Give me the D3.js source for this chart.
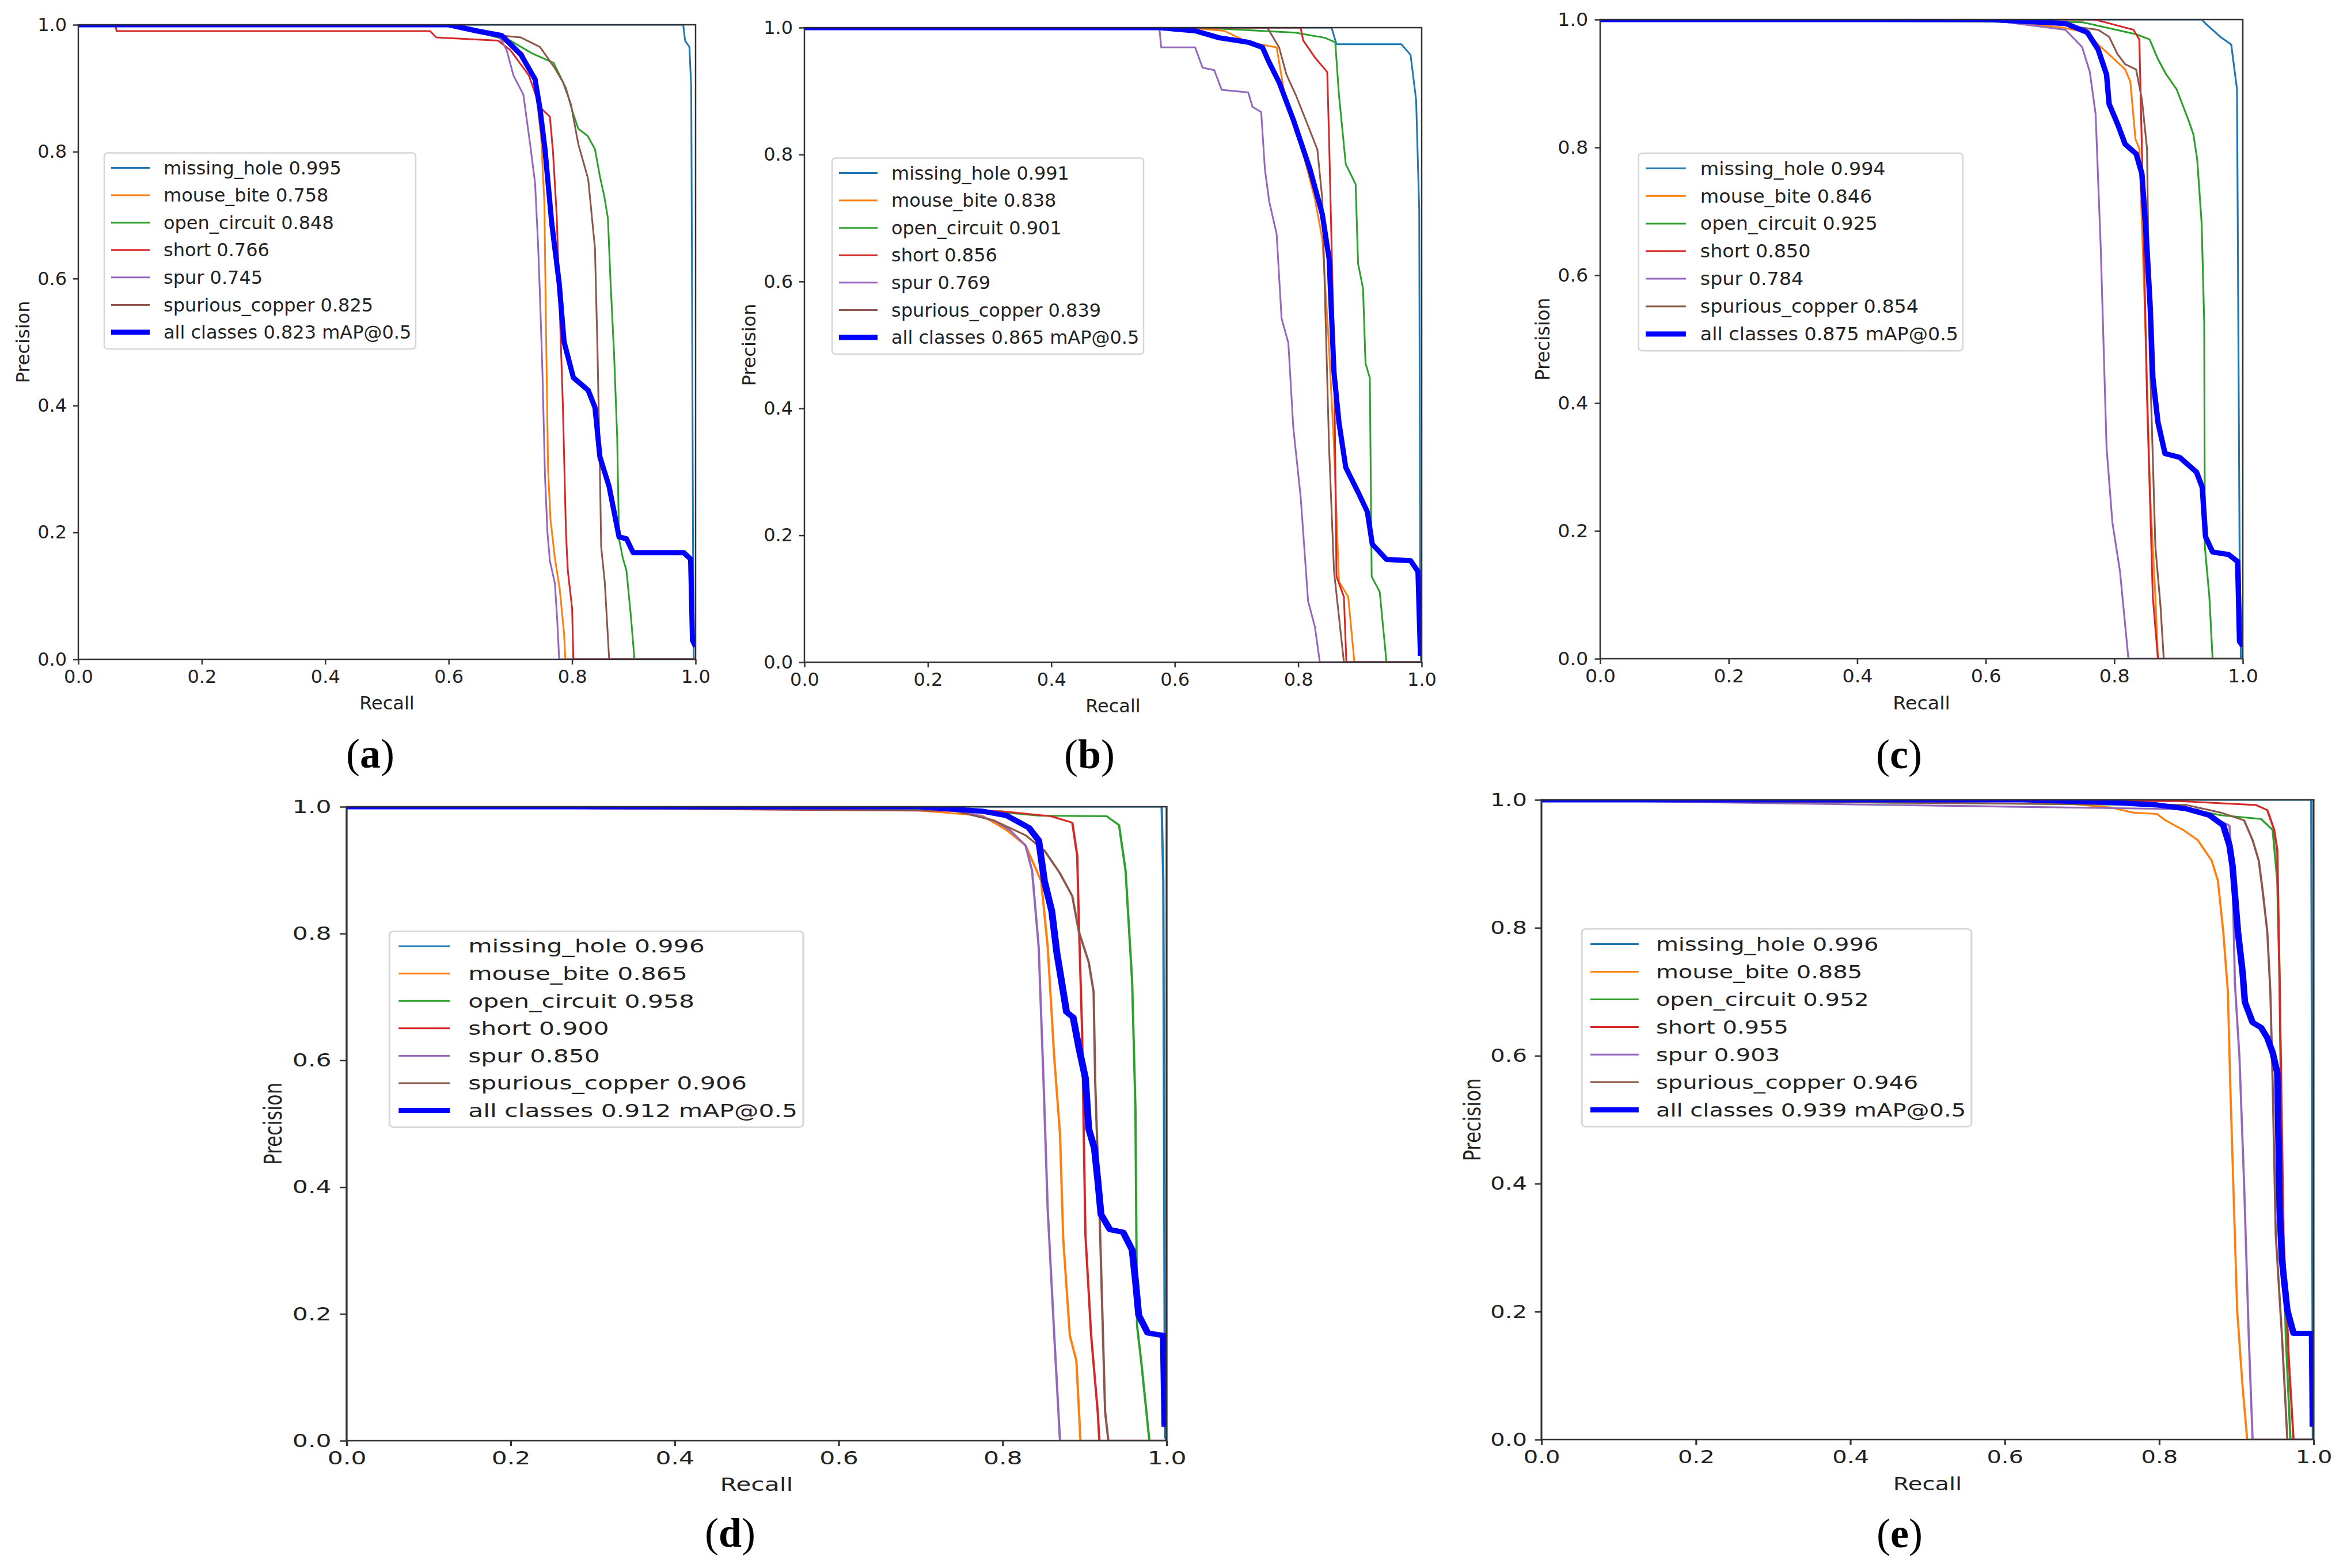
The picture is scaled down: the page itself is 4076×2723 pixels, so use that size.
<!DOCTYPE html>
<html>
<head>
<meta charset="utf-8">
<title>PR curves</title>
<style>
    html, body {
        margin: 0px;
        padding: 0px;
        background-color: #fff;
    }
    svg text {
        font-family: "DejaVu Sans", sans-serif;
        fill: #222;
    }
    .axis text {
        font-size: 32px;
    }
    .axis line {
        stroke: #333;
        stroke-width: 2.5;
    }
    .axis .domain {
        display: none;
    }
    .axis-title {
        font-size: 32px;
    }
    .legend text {
        font-size: 32px;
    }
    .panel-label {
        font-family: "Liberation Serif", serif;
        font-size: 72px;
        fill: #000 !important;
    }
</style>
<script src="https://cdn.jsdelivr.net/npm/d3@7/dist/d3.min.js"></script>
</head>
<body>
<div id="main"></div>
<script>
// ---- shared labels ----
var classNames = ["missing_hole", "mouse_bite", "open_circuit", "short", "spur", "spurious_copper"];
var classColors = ["#1f77b4", "#ff7f0e", "#2ca02c", "#d62728", "#9467bd", "#8c564b"];
var allColor = "#0000ff";
var tickValues = [0, 0.2, 0.4, 0.6, 0.8, 1.0];
var tickLabels = ["0.0", "0.2", "0.4", "0.6", "0.8", "1.0"];
var panelLetters = ["a", "b", "c", "d", "e"];

// ---- AP per class and mAP@0.5 per panel ----
var aAP = [0.995, 0.758, 0.848, 0.766, 0.745, 0.825];
var bAP = [0.991, 0.838, 0.901, 0.856, 0.769, 0.839];
var cAP = [0.994, 0.846, 0.925, 0.850, 0.784, 0.854];
var dAP = [0.996, 0.865, 0.958, 0.900, 0.850, 0.906];
var eAP = [0.996, 0.885, 0.952, 0.955, 0.903, 0.946];
var panelMAP = [0.823, 0.865, 0.875, 0.912, 0.939];

// ---- curves [recall, precision], panel (a) ----
var aMissingHole = [[0,1],[0.98,1],[0.983,0.975],[0.99,0.965],[0.993,0.9],[0.996,0.15],[0.997,0],[1,0]];
var aMouseBite = [[0,1],[0.6,1],[0.68,0.98],[0.72,0.955],[0.74,0.91],[0.75,0.82],[0.755,0.72],[0.758,0.5],[0.761,0.3],[0.765,0.22],[0.772,0.16],[0.78,0.11],[0.787,0.04],[0.789,0],[1,0]];
var aOpenCircuit = [[0,1],[0.6,1],[0.66,0.985],[0.7,0.975],[0.735,0.955],[0.77,0.94],[0.79,0.9],[0.8,0.865],[0.81,0.836],[0.825,0.825],[0.837,0.804],[0.845,0.761],[0.852,0.73],[0.858,0.695],[0.862,0.6],[0.868,0.48],[0.873,0.35],[0.876,0.19],[0.882,0.16],[0.888,0.14],[0.895,0.07],[0.901,0],[1,0]];
var aShort = [[0,1],[0.06,1],[0.062,0.99],[0.57,0.99],[0.58,0.98],[0.68,0.975],[0.7,0.96],[0.73,0.92],[0.748,0.87],[0.764,0.855],[0.769,0.8],[0.775,0.7],[0.78,0.55],[0.785,0.4],[0.79,0.2],[0.793,0.14],[0.8,0.08],[0.802,0],[1,0]];
var aSpur = [[0,1],[0.6,1],[0.68,0.985],[0.694,0.96],[0.705,0.92],[0.721,0.89],[0.733,0.804],[0.74,0.75],[0.745,0.65],[0.748,0.57],[0.752,0.45],[0.756,0.29],[0.76,0.2],[0.764,0.155],[0.772,0.12],[0.776,0.06],[0.779,0],[1,0]];
var aSpuriousCopper = [[0,1],[0.62,1],[0.66,0.985],[0.717,0.98],[0.748,0.965],[0.771,0.933],[0.785,0.91],[0.798,0.875],[0.81,0.812],[0.826,0.757],[0.837,0.648],[0.841,0.49],[0.845,0.3],[0.847,0.178],[0.853,0.12],[0.86,0],[1,0]];
var aAll = [[0,1],[0.6,1],[0.647,0.99],[0.686,0.983],[0.717,0.953],[0.74,0.914],[0.748,0.867],[0.756,0.804],[0.767,0.687],[0.779,0.593],[0.787,0.5],[0.802,0.444],[0.826,0.424],[0.837,0.397],[0.845,0.319],[0.86,0.272],[0.876,0.193],[0.888,0.19],[0.899,0.168],[0.981,0.168],[0.992,0.158],[0.995,0.03],[1,0.02]];

// ---- panel (b) ----
var bMissingHole = [[0,1],[0.854,1],[0.862,0.974],[0.967,0.974],[0.982,0.957],[0.991,0.886],[0.996,0.714],[0.998,0.025],[0.999,0],[1,0]];
var bMouseBite = [[0,1],[0.62,1],[0.68,0.995],[0.719,0.977],[0.765,0.969],[0.777,0.9],[0.796,0.847],[0.827,0.73],[0.839,0.667],[0.85,0.495],[0.858,0.338],[0.866,0.127],[0.881,0.103],[0.891,0],[1,0]];
var bOpenCircuit = [[0,1],[0.641,1],[0.796,0.992],[0.843,0.984],[0.86,0.977],[0.866,0.894],[0.877,0.785],[0.893,0.753],[0.897,0.628],[0.905,0.589],[0.909,0.471],[0.916,0.448],[0.919,0.135],[0.932,0.111],[0.943,0],[1,0]];
var bShort = [[0,1],[0.804,1],[0.808,0.98],[0.827,0.953],[0.847,0.93],[0.85,0.824],[0.858,0.495],[0.862,0.135],[0.874,0.103],[0.878,0],[1,0]];
var bSpur = [[0,1],[0.575,1],[0.578,0.969],[0.633,0.969],[0.645,0.937],[0.664,0.933],[0.676,0.902],[0.719,0.898],[0.726,0.875],[0.74,0.867],[0.746,0.777],[0.753,0.726],[0.765,0.675],[0.773,0.542],[0.784,0.503],[0.792,0.37],[0.804,0.26],[0.816,0.096],[0.827,0.056],[0.835,0],[1,0]];
var bSpuriousCopper = [[0,1],[0.75,1],[0.769,0.969],[0.781,0.926],[0.796,0.894],[0.812,0.855],[0.831,0.808],[0.839,0.73],[0.843,0.589],[0.85,0.338],[0.858,0.143],[0.874,0],[1,0]];
var bAll = [[0,1],[0.575,1],[0.633,0.995],[0.672,0.984],[0.719,0.977],[0.742,0.969],[0.753,0.945],[0.769,0.914],[0.792,0.855],[0.819,0.777],[0.839,0.706],[0.85,0.636],[0.858,0.456],[0.866,0.378],[0.877,0.307],[0.897,0.268],[0.912,0.237],[0.92,0.186],[0.943,0.162],[0.982,0.16],[0.994,0.143],[0.998,0.01]];

// ---- panel (c) ----
var cMissingHole = [[0,1],[0.936,1],[0.944,0.992],[0.965,0.973],[0.982,0.961],[0.991,0.891],[0.995,0.175],[0.997,0],[1,0]];
var cMouseBite = [[0,1],[0.55,1],[0.64,0.996],[0.716,0.988],[0.758,0.98],[0.775,0.961],[0.8,0.938],[0.817,0.922],[0.825,0.903],[0.833,0.813],[0.839,0.798],[0.847,0.564],[0.856,0.253],[0.864,0.097],[0.868,0],[1,0]];
var cOpenCircuit = [[0,1],[0.75,0.996],[0.834,0.977],[0.855,0.969],[0.868,0.938],[0.881,0.914],[0.897,0.891],[0.915,0.844],[0.923,0.821],[0.929,0.782],[0.936,0.681],[0.94,0.525],[0.941,0.175],[0.948,0.097],[0.953,0],[1,0]];
var cShort = [[0,1],[0.77,1],[0.8,0.992],[0.83,0.984],[0.839,0.969],[0.843,0.798],[0.851,0.409],[0.86,0.097],[0.868,0],[1,0]];
var cSpur = [[0,1],[0.6,1],[0.724,0.984],[0.75,0.957],[0.762,0.918],[0.771,0.852],[0.779,0.642],[0.788,0.331],[0.797,0.214],[0.809,0.136],[0.822,0],[1,0]];
var cSpuriousCopper = [[0,1],[0.6,1],[0.716,0.992],[0.775,0.984],[0.792,0.973],[0.805,0.946],[0.817,0.93],[0.834,0.922],[0.843,0.875],[0.851,0.798],[0.855,0.486],[0.864,0.175],[0.872,0.082],[0.877,0],[1,0]];
var cAll = [[0,1],[0.606,1],[0.724,0.994],[0.758,0.98],[0.775,0.953],[0.788,0.914],[0.792,0.868],[0.805,0.837],[0.817,0.805],[0.834,0.79],[0.843,0.759],[0.85,0.658],[0.856,0.549],[0.86,0.44],[0.868,0.37],[0.879,0.321],[0.902,0.315],[0.928,0.292],[0.937,0.268],[0.942,0.191],[0.953,0.167],[0.978,0.163],[0.992,0.152],[0.995,0.027],[1,0.02]];

// ---- panel (d) ----
var dMissingHole = [[0,1],[0.994,1],[0.996,0.883],[0.998,0.006],[1,0]];
var dMouseBite = [[0,1],[0.6,1],[0.698,0.994],[0.775,0.986],[0.805,0.963],[0.828,0.939],[0.847,0.883],[0.855,0.779],[0.863,0.604],[0.87,0.484],[0.874,0.317],[0.882,0.166],[0.89,0.126],[0.895,0],[1,0]];
var dOpenCircuit = [[0,1],[0.775,0.994],[0.844,0.986],[0.927,0.985],[0.942,0.971],[0.95,0.899],[0.958,0.724],[0.962,0.524],[0.964,0.181],[0.969,0.126],[0.979,0],[1,0]];
var dShort = [[0,1],[0.798,0.993],[0.859,0.985],[0.885,0.975],[0.891,0.923],[0.893,0.819],[0.897,0.643],[0.901,0.325],[0.908,0.166],[0.916,0.046],[0.918,0],[1,0]];
var dSpur = [[0,1],[0.7,1],[0.76,0.99],[0.79,0.978],[0.809,0.963],[0.828,0.939],[0.836,0.899],[0.844,0.779],[0.85,0.564],[0.855,0.365],[0.863,0.166],[0.87,0],[1,0]];
var dSpuriousCopper = [[0,1],[0.74,0.994],[0.79,0.978],[0.828,0.955],[0.851,0.931],[0.87,0.895],[0.885,0.859],[0.893,0.803],[0.905,0.755],[0.911,0.708],[0.913,0.564],[0.919,0.325],[0.925,0.046],[0.929,0],[1,0]];
var dAll = [[0,1],[0.698,1],[0.775,0.993],[0.805,0.986],[0.832,0.967],[0.844,0.947],[0.851,0.883],[0.86,0.835],[0.866,0.771],[0.874,0.708],[0.878,0.676],[0.886,0.668],[0.893,0.62],[0.901,0.572],[0.905,0.492],[0.912,0.461],[0.916,0.412],[0.92,0.357],[0.931,0.333],[0.947,0.329],[0.958,0.301],[0.962,0.253],[0.966,0.198],[0.977,0.17],[0.996,0.166],[0.998,0.022]];

// ---- panel (e) ----
var eMissingHole = [[0,1],[0.997,1],[0.998,0.5],[0.999,0],[1,0]];
var eMouseBite = [[0,1],[0.6,1],[0.662,0.996],[0.737,0.988],[0.767,0.98],[0.797,0.978],[0.808,0.968],[0.831,0.953],[0.85,0.937],[0.868,0.905],[0.876,0.874],[0.883,0.794],[0.889,0.7],[0.892,0.557],[0.896,0.399],[0.901,0.202],[0.908,0.083],[0.914,0],[1,0]];
var eOpenCircuit = [[0,1],[0.812,0.992],[0.88,0.976],[0.932,0.97],[0.947,0.953],[0.953,0.874],[0.956,0.715],[0.959,0.399],[0.964,0.162],[0.97,0],[1,0]];
var eShort = [[0,1],[0.827,0.998],[0.925,0.992],[0.94,0.984],[0.949,0.953],[0.953,0.921],[0.956,0.715],[0.961,0.32],[0.968,0.123],[0.974,0],[1,0]];
var eSpur = [[0,1],[0.85,0.985],[0.891,0.96],[0.895,0.889],[0.898,0.715],[0.904,0.597],[0.91,0.399],[0.916,0.162],[0.921,0],[1,0]];
var eSpuriousCopper = [[0,1],[0.835,0.992],[0.88,0.98],[0.91,0.968],[0.921,0.937],[0.929,0.905],[0.934,0.858],[0.94,0.794],[0.944,0.7],[0.947,0.557],[0.951,0.32],[0.959,0.162],[0.966,0],[1,0]];
var eAll = [[0,1],[0.624,1],[0.737,0.996],[0.797,0.992],[0.835,0.986],[0.865,0.976],[0.883,0.96],[0.891,0.929],[0.895,0.897],[0.902,0.794],[0.908,0.731],[0.911,0.684],[0.921,0.652],[0.932,0.644],[0.94,0.628],[0.947,0.605],[0.953,0.573],[0.956,0.36],[0.959,0.281],[0.966,0.202],[0.974,0.166],[0.998,0.166],[0.999,0.02]];

var panelAP = [aAP, bAP, cAP, dAP, eAP];
var panelClassCurves = [
    [aMissingHole, aMouseBite, aOpenCircuit, aShort, aSpur, aSpuriousCopper],
    [bMissingHole, bMouseBite, bOpenCircuit, bShort, bSpur, bSpuriousCopper],
    [cMissingHole, cMouseBite, cOpenCircuit, cShort, cSpur, cSpuriousCopper],
    [dMissingHole, dMouseBite, dOpenCircuit, dShort, dSpur, dSpuriousCopper],
    [eMissingHole, eMouseBite, eOpenCircuit, eShort, eSpur, eSpuriousCopper]
];
var panelAllCurves = [aAll, bAll, cAll, dAll, eAll];

// ---- page layout (pixels) ----
// every panel is drawn in one native frame and stretched onto its box
var baseW = 1072, baseH = 1100;
var boxes = [
    {left: 136,  top: 43,   width: 1072, height: 1102, legX: 45, legY: 222, labX: 643,  labY: 1333},
    {left: 1397, top: 48,   width: 1072, height: 1102, legX: 48, legY: 226, labX: 1892, labY: 1334},
    {left: 2779, top: 34,   width: 1116, height: 1110, legX: 64, legY: 230, labX: 3298, labY: 1334},
    {left: 602,  top: 1401, width: 1424, height: 1101, legX: 56, legY: 216, labX: 1268, labY: 2686},
    {left: 2677, top: 1389, width: 1341, height: 1111, legX: 56, legY: 222, labX: 3299, labY: 2687}
];
var width = 4076, height = 2723;

function drawPanel(svg, i) {
    var box = boxes[i];
    var sx = box.width / baseW, sy = box.height / baseH;

    var x = d3.scaleLinear().domain([0, 1]).range([0, baseW]);
    var y = d3.scaleLinear().domain([0, 1]).range([baseH, 0]);

    var g = svg.append("g")
        .attr("transform", "translate(" + box.left + "," + box.top + ") scale(" + sx + "," + sy + ")");

    svg.select("defs").append("clipPath")
        .attr("id", "clip-" + i)
        .append("rect")
        .attr("width", baseW)
        .attr("height", baseH);

    var line = d3.line()
        .x(function(d) { return x(d[0]); })
        .y(function(d) { return y(d[1]); });

    var plot = g.append("g").attr("clip-path", "url(#clip-" + i + ")");

    plot.selectAll("path.cls")
        .data(panelClassCurves[i])
        .enter()
        .append("path")
        .attr("class", "cls")
        .attr("d", line)
        .attr("fill", "none")
        .attr("stroke", function(d, k) { return classColors[k]; })
        .attr("stroke-width", 3)
        .attr("stroke-linejoin", "round");

    plot.append("path")
        .attr("d", line(panelAllCurves[i]))
        .attr("fill", "none")
        .attr("stroke", allColor)
        .attr("stroke-width", 9)
        .attr("stroke-linejoin", "round");

    // axes
    g.append("g")
        .attr("class", "axis")
        .attr("transform", "translate(0," + baseH + ")")
        .call(d3.axisBottom(x).tickValues(tickValues)
            .tickFormat(function(d, k) { return tickLabels[k]; })
            .tickSize(9).tickSizeOuter(0).tickPadding(9));

    g.append("g")
        .attr("class", "axis")
        .call(d3.axisLeft(y).tickValues(tickValues)
            .tickFormat(function(d, k) { return tickLabels[k]; })
            .tickSize(9).tickSizeOuter(0).tickPadding(11));

    g.append("rect")
        .attr("width", baseW)
        .attr("height", baseH)
        .attr("fill", "none")
        .attr("stroke", "#333")
        .attr("stroke-width", 2.5);

    g.append("text")
        .attr("class", "axis-title")
        .attr("x", baseW / 2)
        .attr("y", baseH + 87)
        .attr("text-anchor", "middle")
        .text("Recall");

    g.append("text")
        .attr("class", "axis-title")
        .attr("transform", "translate(-85," + (baseH / 2) + ") rotate(-90)")
        .attr("text-anchor", "middle")
        .text("Precision");

    // legend
    var labels = classNames.map(function(n, k) { return n + " " + panelAP[i][k].toFixed(3); });
    labels.push("all classes " + panelMAP[i].toFixed(3) + " mAP@0.5");
    var colors = classColors.concat([allColor]);
    var rowH = 47.5;

    var leg = g.append("g")
        .attr("class", "legend")
        .attr("transform", "translate(" + box.legX + "," + box.legY + ")");

    leg.append("rect")
        .attr("width", 541)
        .attr("height", 340)
        .attr("rx", 6)
        .attr("fill", "#fff")
        .attr("fill-opacity", 0.8)
        .attr("stroke", "#d6d6d6")
        .attr("stroke-width", 2.5);

    var row = leg.selectAll("g.row")
        .data(labels)
        .enter()
        .append("g")
        .attr("class", "row")
        .attr("transform", function(d, k) { return "translate(0," + (26 + k * rowH) + ")"; });

    row.append("line")
        .attr("x1", 12)
        .attr("x2", 79)
        .attr("stroke", function(d, k) { return colors[k]; })
        .attr("stroke-width", function(d, k) { return k === 6 ? 9 : 3; });

    row.append("text")
        .attr("x", 103)
        .attr("dy", "0.35em")
        .text(function(d) { return d; });

    // panel letter, e.g. (a)
    var lab = svg.append("text")
        .attr("class", "panel-label")
        .attr("x", box.labX)
        .attr("y", box.labY)
        .attr("text-anchor", "middle");
    lab.append("tspan").text("(");
    lab.append("tspan").attr("font-weight", "bold").text(panelLetters[i]);
    lab.append("tspan").text(")");
}

function main() {
    var svg = d3.select("#main")
        .append("svg")
        .attr("width", width)
        .attr("height", height);
    svg.append("defs");
    for (var i = 0; i < boxes.length; i++) {
        drawPanel(svg, i);
    }
}

main();
</script>
</body>
</html>
